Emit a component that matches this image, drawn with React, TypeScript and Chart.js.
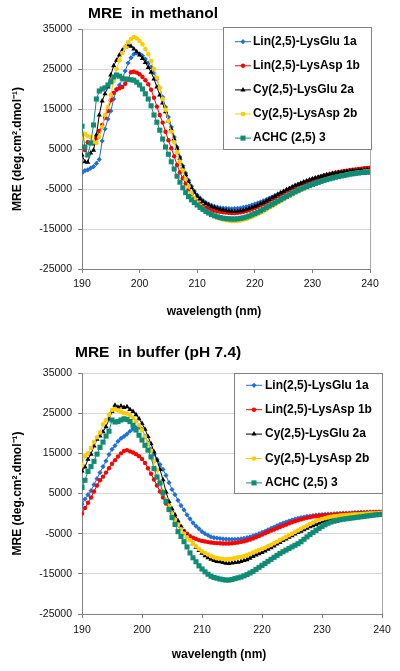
import React, { useEffect, useRef } from 'react';
import { Chart, registerables } from 'chart.js';
import { drawPoint } from 'chart.js/helpers';

Chart.register(...registerables);

const FONT = 'Arial, "Liberation Sans", sans-serif';

// Sampling grid of the CD spectra (0.5 nm steps, 190–240 nm)
const WAVELENGTH_NM = Array.from({ length: 101 }, (_, i) => 190 + i * 0.5);
const X_TICKS = [190, 200, 210, 220, 230, 240];
const Y_TICKS = [-25000, -15000, -5000, 5000, 15000, 25000, 35000];

const SERIES_LABELS = [
  'Lin(2,5)-LysGlu 1a',
  'Lin(2,5)-LysAsp 1b',
  'Cy(2,5)-LysGlu 2a',
  'Cy(2,5)-LysAsp 2b',
  'ACHC (2,5) 3',
];
const TITLE_METHANOL = 'MRE  in methanol';
const TITLE_BUFFER = 'MRE  in buffer (pH 7.4)';
const Y_TITLE = 'MRE (deg.cm\u00B2.dmol\u207B\u00B9)';
const X_TITLE = 'wavelength (nm)';

// ---------- MRE in methanol ----------
const METHANOL_1A = [
  -1000, -400, -200, 200, 600, 1400, 2400, 7000, 10000, 12500,
  14500, 17500, 20000, 21000, 22500, 24500, 26500, 27800, 28700, 29000,
  28800, 28300, 27500, 26500, 25500, 24000, 22500, 20300, 18000, 15500,
  13000, 10500, 8000, 5500, 3000, 800, -1000, -2800, -4300, -5500,
  -6500, -7300, -7900, -8400, -8800, -9100, -9350, -9550, -9700, -9800,
  -9850, -9900, -9950, -9900, -9850, -9750, -9600, -9450, -9250, -9000,
  -8800, -8500, -8250, -7950, -7650, -7300, -7000, -6650, -6300, -5950,
  -5600, -5250, -4900, -4550, -4200, -3900, -3600, -3300, -3050, -2800,
  -2550, -2300, -2100, -1900, -1700, -1500, -1350, -1200, -1050, -900,
  -800, -700, -600, -500, -400, -300, -250, -150, -100, 0,
  50,
];
const METHANOL_1B = [
  5600, 4750, 6700, 6500, 6400, 7700, 9500, 11000, 12800, 14500,
  17200, 19000, 19800, 20200, 20500, 21300, 22500, 24200, 24300, 24100,
  23700, 23000, 22200, 21200, 19800, 17800, 15600, 13500, 11600, 9300,
  7200, 5200, 3200, 1000, -800, -2300, -3600, -5000, -6300, -7300,
  -8100, -8700, -9200, -9600, -9900, -10200, -10400, -10600, -10700, -10800,
  -10900, -10950, -11000, -11000, -10950, -10850, -10700, -10500, -10300, -10050,
  -9750, -9450, -9100, -8750, -8400, -8000, -7600, -7200, -6800, -6400,
  -6000, -5600, -5200, -4850, -4500, -4150, -3800, -3500, -3200, -2900,
  -2650, -2400, -2150, -1900, -1700, -1500, -1300, -1100, -950, -800,
  -650, -500, -400, -300, -200, -100, 0, 100, 200, 250,
  350,
];
const METHANOL_2A = [
  3500, 1800, 1700, 4000, 4700, 8500, 13500, 17000, 18800, 20500,
  23500, 25800, 27200, 28500, 29700, 30500, 31000, 30700, 30000, 29300,
  28500, 27600, 26600, 25400, 24200, 22500, 20500, 18500, 16500, 14300,
  12000, 10000, 7500, 5200, 2700, 500, -1400, -3100, -4600, -5800,
  -6800, -7500, -8100, -8600, -9000, -9350, -9650, -9900, -10100, -10250,
  -10400, -10500, -10550, -10600, -10550, -10450, -10300, -10100, -9900, -9650,
  -9350, -9050, -8700, -8350, -8000, -7600, -7200, -6800, -6400, -6000,
  -5600, -5200, -4850, -4500, -4150, -3850, -3550, -3250, -3000, -2750,
  -2500, -2250, -2050, -1850, -1650, -1450, -1300, -1150, -1000, -900,
  -800, -700, -600, -500, -450, -350, -300, -250, -200, -150,
  -100,
];
const METHANOL_2B = [
  7700, 8800, 8200, 8000, 6800, 6500, 8000, 10500, 13500, 15500,
  18500, 22000, 25000, 27200, 29000, 30500, 31700, 32500, 33000, 32700,
  32000, 31200, 30000, 28700, 27000, 25000, 22800, 20300, 17500, 14800,
  12000, 9300, 6700, 4200, 1800, -400, -2500, -4400, -6000, -7300,
  -8400, -9200, -9900, -10500, -11000, -11400, -11800, -12100, -12400, -12600,
  -12800, -12900, -13000, -13000, -12950, -12850, -12700, -12500, -12250, -11950,
  -11650, -11300, -10950, -10550, -10150, -9700, -9300, -8850, -8400, -8000,
  -7550, -7150, -6750, -6350, -5950, -5600, -5250, -4900, -4550, -4250,
  -3950, -3650, -3350, -3100, -2850, -2600, -2400, -2200, -2000, -1800,
  -1650, -1500, -1350, -1200, -1050, -950, -850, -750, -650, -550,
  -500,
];
const METHANOL_3 = [
  10700, 5500, 3500, 6500, 11000, 17500, 19500, 20000, 20300, 21000,
  21800, 23000, 23500, 23200, 22700, 22500, 22400, 22300, 22200, 21700,
  21000, 20000, 18800, 17500, 15800, 13500, 11700, 9700, 7500, 5500,
  3700, 1800, 0, -1800, -3300, -4700, -5900, -6900, -7700, -8400,
  -9000, -9600, -10100, -10600, -11000, -11400, -11700, -11950, -12150, -12300,
  -12400, -12450, -12500, -12500, -12450, -12350, -12200, -12000, -11750, -11450,
  -11150, -10800, -10450, -10050, -9650, -9250, -8850, -8450, -8050, -7650,
  -7250, -6850, -6450, -6050, -5700, -5350, -5000, -4700, -4400, -4100,
  -3850, -3600, -3350, -3100, -2850, -2650, -2450, -2250, -2050, -1900,
  -1750, -1600, -1450, -1300, -1200, -1100, -1000, -900, -850, -800,
  -750,
];

// ---------- MRE in buffer (pH 7.4) ----------
const BUFFER_1A = [
  2350, 3600, 4700, 5700, 7200, 8700, 10200, 11700, 13100, 14700,
  16000, 16900, 18000, 18700, 19200, 19800, 20500, 21100, 21500, 21500,
  21000, 19300, 17600, 16000, 14800, 13500, 12200, 11000, 9500, 7700,
  6000, 4700, 3300, 2000, 900, -300, -1300, -2300, -3100, -3800,
  -4500, -5000, -5400, -5800, -6000, -6100, -6200, -6300, -6350, -6400,
  -6400, -6400, -6350, -6300, -6150, -6000, -5800, -5550, -5300, -5000,
  -4700, -4400, -4050, -3700, -3350, -3000, -2700, -2400, -2100, -1850,
  -1600, -1400, -1200, -1000, -850, -700, -600, -500, -400, -300,
  -250, -200, -150, -100, -50, 0, 50, 100, 150, 150,
  200, 250, 250, 300, 300, 350, 350, 350, 400, 400,
  400,
];
const BUFFER_1B = [
  0, 1400, 2700, 4000, 5500, 7000, 8300, 9200, 10200, 11300,
  12400, 13300, 14200, 15000, 15600, 15800, 15500, 15200, 14800, 14300,
  13600, 12600, 11300, 9900, 8500, 7000, 5500, 4000, 2500, 1100,
  0, -1200, -2300, -3400, -4300, -5000, -5600, -6000, -6300, -6600,
  -6800, -6950, -7100, -7200, -7300, -7350, -7400, -7450, -7450, -7450,
  -7400, -7300, -7200, -7050, -6900, -6700, -6450, -6200, -5900, -5600,
  -5250, -4900, -4600, -4250, -3950, -3650, -3350, -3050, -2750, -2450,
  -2150, -1900, -1650, -1450, -1250, -1050, -900, -750, -650, -550,
  -450, -400, -350, -300, -250, -200, -150, -100, -50, 0,
  50, 100, 150, 200, 250, 300, 300, 350, 350, 400,
  400,
];
const BUFFER_2A = [
  10600, 11600, 13500, 14800, 16800, 18500, 19300, 20400, 21600, 23500,
  25400, 27000, 26500, 26800, 26400, 26600, 25900, 25400, 24600, 23600,
  22400, 21000, 19200, 17400, 15400, 13300, 11000, 8400, 5400, 3000,
  1200, -300, -1800, -3200, -4500, -5600, -6500, -7500, -8400, -9200,
  -9900, -10500, -11000, -11400, -11700, -11900, -12000, -12200, -12350, -12400,
  -12300, -12200, -12100, -11900, -11700, -11500, -11100, -10700, -10300, -10000,
  -9700, -9300, -8900, -8500, -8100, -7600, -7200, -6700, -6300, -5900,
  -5500, -5100, -4700, -4400, -4000, -3650, -3300, -3000, -2700, -2400,
  -2100, -1850, -1600, -1400, -1200, -1000, -850, -700, -550, -450,
  -350, -250, -200, -150, -100, -50, 0, 0, 50, 50,
  100,
];
const BUFFER_2B = [
  12000, 14300, 15000, 16300, 17800, 19000, 20200, 22200, 23200, 24600,
  25800, 26000, 25700, 25400, 25000, 24900, 24500, 23800, 23000, 22000,
  20800, 19100, 17400, 15600, 13000, 10800, 7900, 5500, 3500, 1800,
  0, -1500, -2700, -3900, -5000, -5900, -6600, -7400, -8100, -8800,
  -9400, -9800, -10200, -10600, -10900, -11100, -11200, -11300, -11400, -11350,
  -11250, -11100, -10900, -10800, -10600, -10300, -10000, -9700, -9400, -9100,
  -8800, -8500, -8150, -7800, -7400, -7000, -6600, -6200, -5800, -5400,
  -5000, -4600, -4200, -3800, -3400, -3000, -2600, -2250, -1900, -1600,
  -1350, -1150, -950, -800, -700, -600, -500, -400, -350, -300,
  -250, -200, -150, -100, -50, 0, 50, 100, 100, 150,
  200,
];
const BUFFER_3 = [
  6500, 8300, 10500, 11700, 13000, 14800, 16500, 17800, 19300, 20500,
  23300, 22800, 22900, 23300, 23600, 23400, 22900, 22000, 20800, 19500,
  18300, 17000, 15800, 14100, 11200, 9100, 7600, 5200, 3000, 1000,
  -1000, -2700, -4500, -5700, -7000, -8300, -9800, -11000, -12000, -13000,
  -13800, -14500, -15100, -15600, -15900, -16100, -16300, -16450, -16550, -16550,
  -16400, -16200, -16000, -15800, -15500, -15200, -14800, -14400, -13900, -13400,
  -12900, -12400, -11900, -11400, -10900, -10400, -9950, -9500, -9100, -8700,
  -8300, -7900, -7500, -7000, -6400, -5800, -5200, -4700, -4200, -3700,
  -3200, -2800, -2400, -2100, -1900, -1700, -1550, -1400, -1300, -1200,
  -1100, -1000, -900, -800, -700, -600, -500, -400, -300, -250,
  -200,
];

const STYLES = [
  { color: '#1f6fd6', pointStyle: 'rectRot', radius: 2.6 },
  { color: '#ff0000', pointStyle: 'circle', radius: 2.2 },
  { color: '#000000', pointStyle: 'triangle', radius: 3 },
  { color: '#ffcc00', pointStyle: 'circle', radius: 2.3 },
  { color: '#0f8c74', pointStyle: 'rect', radius: 3.6 },
];

const boxLegend = {
  id: 'boxLegend',
  afterDraw(chart: any, _args: any, o: any) {
    const ctx = chart.ctx;
    ctx.save();
    ctx.fillStyle = '#ffffff';
    ctx.fillRect(o.x, o.y, o.w, o.h);
    ctx.strokeStyle = '#808080';
    ctx.lineWidth = 1;
    ctx.strokeRect(o.x + 0.5, o.y + 0.5, o.w, o.h);
    chart.data.datasets.forEach((ds: any, i: number) => {
      const cy = o.y + o.firstRow + i * o.rowH;
      ctx.strokeStyle = ds.borderColor;
      ctx.lineWidth = 1;
      ctx.beginPath();
      ctx.moveTo(o.lineX0, cy);
      ctx.lineTo(o.lineX1, cy);
      ctx.stroke();
      ctx.fillStyle = ds.pointBackgroundColor;
      ctx.strokeStyle = ds.pointBorderColor;
      drawPoint(
        ctx,
        { pointStyle: ds.pointStyle, rotation: 0, radius: ds.pointRadius, borderWidth: 0 } as any,
        (o.lineX0 + o.lineX1) / 2,
        cy
      );
      ctx.fillStyle = '#000000';
      ctx.font = `bold 12px ${FONT}`;
      ctx.textAlign = 'left';
      ctx.textBaseline = 'middle';
      ctx.fillText(ds.label, o.textX, cy);
    });
    ctx.restore();
  },
};

// chart title (left-aligned) and x-axis title (centred at the given point)
const textTitle = {
  id: 'textTitle',
  afterDraw(chart: any, _args: any, o: any) {
    const ctx = chart.ctx;
    ctx.save();
    ctx.fillStyle = '#000000';
    ctx.textBaseline = 'middle';
    ctx.font = `bold ${o.size}px ${FONT}`;
    ctx.textAlign = 'left';
    ctx.fillText(o.text, o.x, o.y);
    ctx.font = `bold 12px ${FONT}`;
    ctx.textAlign = 'center';
    ctx.fillText(o.xTitle, o.xTitleX, o.xTitleY);
    ctx.restore();
  },
};

type Layout = {
  title: string;
  titleX: number;
  titleY: number;
  xTitleX: number;
  xTitleY: number;
  plotTop: number;
  padRight: number;
  xHeight: number;
  xTickPad: number;
  legend: any;
};

function makeConfig(series: number[][], p: Layout): any {
  return {
    type: 'line',
    data: {
      datasets: series.map((vals, i) => ({
        label: SERIES_LABELS[i],
        data: vals.map((v, j) => ({ x: WAVELENGTH_NM[j], y: v })),
        borderColor: STYLES[i].color,
        backgroundColor: STYLES[i].color,
        pointBackgroundColor: STYLES[i].color,
        pointBorderColor: STYLES[i].color,
        pointBorderWidth: 0,
        pointStyle: STYLES[i].pointStyle,
        pointRadius: STYLES[i].radius,
        borderWidth: 1,
        tension: 0,
        fill: false,
        order: series.length - i,
      })),
    },
    options: {
      animation: false,
      responsive: false,
      events: [],
      layout: { padding: { left: 0, right: p.padRight, top: p.plotTop, bottom: 0 } },
      plugins: {
        legend: { display: false },
        tooltip: { enabled: false },
        title: { display: false },
        boxLegend: p.legend,
        textTitle: {
          text: p.title,
          x: p.titleX,
          y: p.titleY,
          size: 15.5,
          xTitle: X_TITLE,
          xTitleX: p.xTitleX,
          xTitleY: p.xTitleY,
        },
      },
      scales: {
        x: {
          type: 'linear',
          min: 190,
          max: 240,
          afterBuildTicks: (s: any) => {
            s.ticks = X_TICKS.map((v) => ({ value: v }));
          },
          afterFit: (s: any) => {
            s.height = p.xHeight;
          },
          grid: {
            color: (c: any) => (c.tick && c.tick.value === 240 ? '#a8a8a8' : 'rgba(0,0,0,0)'),
            tickColor: '#808080',
            tickLength: 4,
            lineWidth: 1,
          },
          border: { color: '#808080', width: 1 },
          ticks: {
            padding: p.xTickPad,
            color: '#111111',
            maxRotation: 0,
            autoSkip: false,
            font: { family: FONT, size: 10.5 },
            callback: (v: any) => String(v),
          },
          title: { display: false },
        },
        y: {
          type: 'linear',
          min: -25000,
          max: 35000,
          afterBuildTicks: (s: any) => {
            s.ticks = Y_TICKS.map((v) => ({ value: v }));
          },
          afterFit: (s: any) => {
            s.width = 82;
          },
          grid: { color: '#d6d6d6', tickColor: '#808080', tickLength: 4, lineWidth: 1 },
          border: { color: '#808080', width: 1 },
          ticks: {
            padding: 6,
            color: '#111111',
            autoSkip: false,
            font: { family: FONT, size: 10.5 },
            callback: (v: any) => String(v),
          },
          title: {
            display: true,
            text: Y_TITLE,
            color: '#000000',
            font: { family: FONT, size: 12, weight: 'bold' },
            padding: { top: 10, bottom: 0 },
          },
        },
      },
    },
    plugins: [boxLegend, textTitle],
  };
}

function CdChart({ series, layout, width, height }: { series: number[][]; layout: Layout; width: number; height: number }) {
  const ref = useRef<HTMLCanvasElement>(null);
  useEffect(() => {
    const chart = new Chart(ref.current as HTMLCanvasElement, makeConfig(series, layout));
    return () => chart.destroy();
  }, []);
  return <canvas ref={ref} width={width} height={height} style={{ display: 'block', width, height }} />;
}

const TOP_LAYOUT: Layout = {
  title: TITLE_METHANOL,
  titleX: 88,
  titleY: 14,
  xTitleX: 214,
  xTitleY: 312,
  plotTop: 29,
  padRight: 30,
  xHeight: 61,
  xTickPad: 5,
  legend: { x: 223, y: 27, w: 148, h: 122, firstRow: 14.7, rowH: 24.1, lineX0: 235, lineX1: 251, textX: 253 },
};

const BOTTOM_LAYOUT: Layout = {
  title: TITLE_BUFFER,
  titleX: 75,
  titleY: 23,
  xTitleX: 219,
  xTitleY: 325,
  plotTop: 43,
  padRight: 18,
  xHeight: 57,
  xTickPad: 6,
  legend: { x: 234, y: 43, w: 148, h: 120, firstRow: 12.3, rowH: 24.4, lineX0: 246, lineX1: 262, textX: 265 },
};

export default function App() {
  return (
    <div style={{ position: 'absolute', left: 0, top: 0, width: 400, height: 671, background: '#ffffff' }}>
      <CdChart
        series={[METHANOL_1A, METHANOL_1B, METHANOL_2A, METHANOL_2B, METHANOL_3]}
        layout={TOP_LAYOUT}
        width={400}
        height={330}
      />
      <CdChart
        series={[BUFFER_1A, BUFFER_1B, BUFFER_2A, BUFFER_2B, BUFFER_3]}
        layout={BOTTOM_LAYOUT}
        width={400}
        height={341}
      />
    </div>
  );
}
